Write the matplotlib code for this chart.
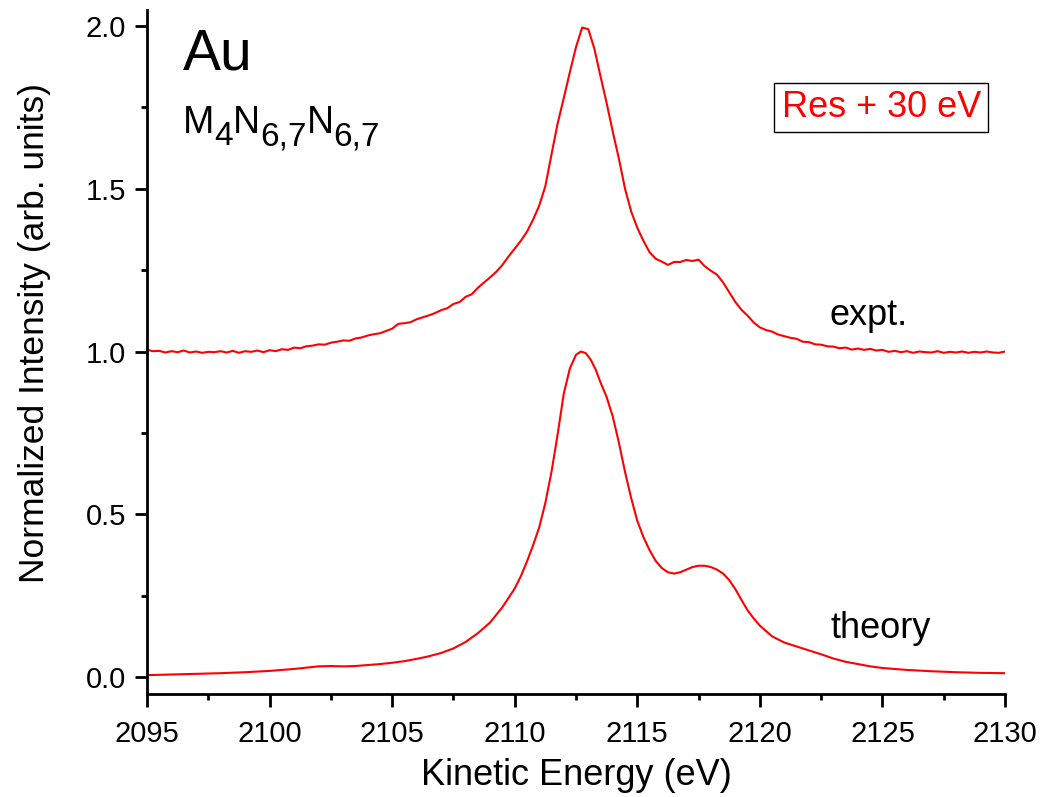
import numpy as np
import matplotlib
matplotlib.use('Agg')
import matplotlib.pyplot as plt
from matplotlib.ticker import MultipleLocator

plt.rcParams['font.family'] = ['Liberation Sans', 'DejaVu Sans']

# energia (eV), passo de 0.25 eV
energia = np.arange(2095.0, 2130.001, 0.25)

expt = [
    1.005, 1.001, 1.002, 0.997,   # 2095
    1.001, 0.998, 1.003, 0.997,   # 2096
    1.000, 0.996, 0.999, 0.998,   # 2097
    1.001, 0.997, 1.002, 0.996,   # 2098
    1.001, 0.999, 1.003, 0.998,   # 2099
    1.004, 1.001, 1.007, 1.005,   # 2100
    1.012, 1.010, 1.016, 1.018,   # 2101
    1.022, 1.021, 1.027, 1.030,   # 2102
    1.034, 1.033, 1.040, 1.043,   # 2103
    1.049, 1.053, 1.056, 1.063,   # 2104
    1.070, 1.085, 1.087, 1.090,   # 2105
    1.099, 1.105, 1.111, 1.118,   # 2106
    1.127, 1.133, 1.146, 1.152,   # 2107
    1.168, 1.176, 1.196, 1.212,   # 2108
    1.228, 1.245, 1.266, 1.292,   # 2109
    1.316, 1.340, 1.368, 1.405,   # 2110
    1.448, 1.508, 1.605, 1.700,   # 2111
    1.778, 1.858, 1.935, 1.995,   # 2112
    1.990, 1.930, 1.845, 1.763,   # 2113
    1.675, 1.592, 1.500, 1.430,   # 2114
    1.380, 1.340, 1.305, 1.285,   # 2115
    1.276, 1.266, 1.275, 1.275,   # 2116
    1.281, 1.278, 1.282, 1.262,   # 2117
    1.248, 1.236, 1.212, 1.182,   # 2118
    1.152, 1.128, 1.110, 1.089,   # 2119
    1.074, 1.066, 1.061, 1.052,   # 2120
    1.047, 1.042, 1.039, 1.030,   # 2121
    1.029, 1.022, 1.021, 1.016,   # 2122
    1.015, 1.010, 1.012, 1.006,   # 2123
    1.009, 1.005, 1.008, 1.003,   # 2124
    1.005, 0.999, 1.002, 0.998,   # 2125
    1.001, 0.996, 1.000, 0.998,   # 2126
    0.997, 1.001, 0.996, 0.999,   # 2127
    0.997, 1.000, 0.996, 0.999,   # 2128
    0.997, 1.000, 0.997, 0.996,   # 2129
    1.000,                        # 2130
]

# curva teorica
energia_teo = [2095, 2096, 2097, 2098, 2099, 2100, 2101, 2101.5, 2102, 2102.5,
               2103, 2103.5, 2104, 2104.5, 2105, 2105.5, 2106, 2106.5, 2107, 2107.5,
               2108, 2108.5, 2109, 2109.5, 2110, 2110.25, 2110.5, 2110.75, 2111, 2111.25,
               2111.5, 2111.75, 2112, 2112.25, 2112.5, 2112.7, 2112.9, 2113.1, 2113.3, 2113.5,
               2113.75, 2114, 2114.25, 2114.5, 2114.75, 2115, 2115.25, 2115.5, 2115.75, 2116,
               2116.25, 2116.5, 2116.75, 2117, 2117.25, 2117.5, 2117.75, 2118, 2118.25, 2118.5,
               2118.75, 2119, 2119.25, 2119.5, 2119.75, 2120, 2120.5, 2121, 2121.5, 2122,
               2122.5, 2123, 2123.5, 2124, 2124.5, 2125, 2126, 2127, 2128, 2129,
               2130]
teoria = [0.006, 0.008, 0.010, 0.012, 0.015, 0.019, 0.025, 0.029, 0.033, 0.034,
          0.033, 0.034, 0.037, 0.040, 0.044, 0.049, 0.056, 0.064, 0.074, 0.088,
          0.108, 0.135, 0.168, 0.215, 0.272, 0.310, 0.355, 0.405, 0.460, 0.535,
          0.630, 0.745, 0.870, 0.948, 0.990, 1.000, 0.995, 0.975, 0.945, 0.905,
          0.860, 0.800, 0.720, 0.630, 0.550, 0.480, 0.430, 0.390, 0.357, 0.335,
          0.322, 0.318, 0.322, 0.330, 0.338, 0.342, 0.342, 0.338, 0.330, 0.318,
          0.298, 0.270, 0.237, 0.205, 0.180, 0.158, 0.125, 0.106, 0.094, 0.082,
          0.070, 0.057, 0.047, 0.040, 0.033, 0.028, 0.022, 0.018, 0.015, 0.013,
          0.012]

# rotulo da transicao: (texto, tamanho, deslocamento vertical em px)
transicao = [('M', 27, 0), ('4', 24, -12), ('N', 27, 0), ('6,7', 24, -12),
             ('N', 27, 0), ('6,7', 24, -12)]

n = min(len(energia), len(expt))
m = min(len(energia_teo), len(teoria))

W, H = 1043, 797
fig = plt.figure(figsize=(W / 100, H / 100), dpi=100)
ax = fig.add_axes([0.1409, 0.1292, 0.8227, 0.8583])

ax.plot(energia[:n], expt[:n], color='red', linewidth=1.5)
ax.plot(energia_teo[:m], teoria[:m], color='red', linewidth=1.5)

ax.set_xlim(2095, 2130)
ax.set_ylim(-0.052, 2.049)
ax.xaxis.set_major_locator(MultipleLocator(5))
ax.xaxis.set_minor_locator(MultipleLocator(2.5))
ax.yaxis.set_major_locator(MultipleLocator(0.5))
ax.yaxis.set_minor_locator(MultipleLocator(0.25))
ax.yaxis.set_major_formatter(matplotlib.ticker.FormatStrFormatter('%.1f'))

for lado in ['top', 'right']:
    ax.spines[lado].set_visible(False)
for lado in ['left', 'bottom']:
    ax.spines[lado].set_linewidth(2)
ax.tick_params(which='major', length=9, width=2, labelsize=21, pad=6)
ax.tick_params(axis='x', which='major', pad=10)
ax.tick_params(which='minor', length=4.5, width=2)

ax.set_xlabel('Kinetic Energy (eV)', fontsize=26, labelpad=7)
ax.set_ylabel('Normalized Intensity (arb. units)', fontsize=25.5)
ax.yaxis.set_label_coords(-0.112, 0.528)

ax.text(0.042, 0.975, 'Au', transform=ax.transAxes, fontsize=41, va='top', ha='left')

# M4N6,7N6,7 montado peca a peca (subscritos maiores que no mathtext)
renderer = fig.canvas.get_renderer()
xp, base = 183, H - 133
for txt, tam, dy in transicao:
    t = fig.text(xp / W, (base + dy) / H, txt, fontsize=tam, va='baseline', ha='left')
    xp = t.get_window_extent(renderer).x1

ax.text(2124.95, 1.75, 'Res + 30 eV', color='red', fontsize=26, ha='center', va='center',
        bbox=dict(boxstyle='square,pad=0.2', facecolor='white', edgecolor='black', linewidth=1))
ax.text(2122.85, 1.11, 'expt.', fontsize=26, ha='left', va='center')
ax.text(2122.9, 0.15, 'theory', fontsize=26, ha='left', va='center')

plt.savefig('out.png', dpi=100)
